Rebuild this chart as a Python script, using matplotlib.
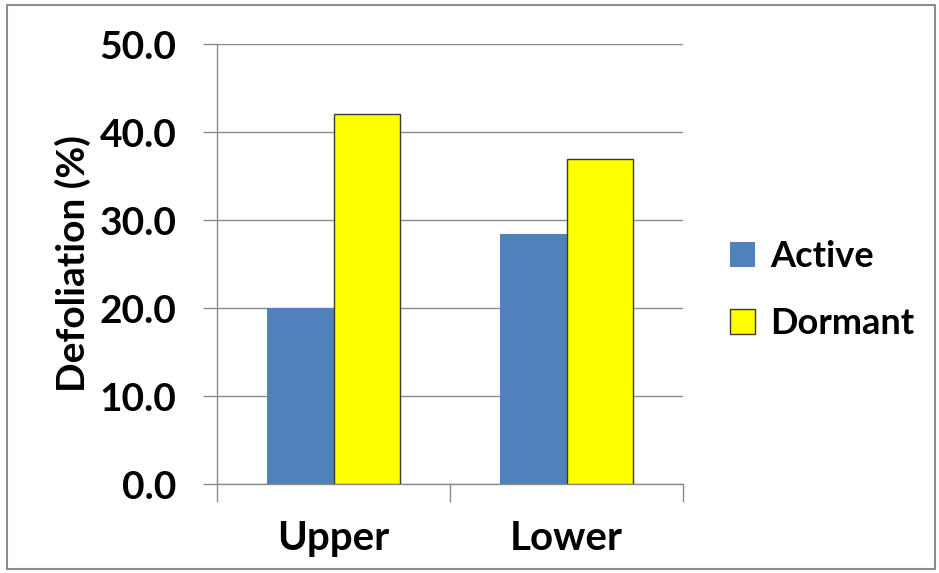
import matplotlib
matplotlib.use("Agg")
import matplotlib.pyplot as plt
import numpy as np
from matplotlib.patches import Rectangle

categories = ["Upper", "Lower"]
series_names = ["Active", "Dormant"]
active = [20.0, 28.4]
dormant = [42.1, 37.0]
yticks = [0, 10, 20, 30, 40, 50]

plt.rcParams['font.family'] = ['Lato', 'DejaVu Sans']
plt.rcParams['font.weight'] = 'bold'

W, H = 939, 573
fig = plt.figure(figsize=(W / 100, H / 100), dpi=100)
ax = fig.add_axes([217 / W, 1 - 484.3 / H, 466 / W, 440 / H])

x = np.arange(len(categories))
bw = 0.285
ax.bar(x - bw / 2, active, bw, color="#4F81BD", edgecolor="none", label=series_names[0], zorder=3)
ax.bar(x + bw / 2, dormant, bw, color="#FFFF00", edgecolor="#3a3a2a", linewidth=1.0,
       label=series_names[1], zorder=3)

ax.set_xlim(-0.5, len(categories) - 0.5)
ax.set_ylim(0, 50)
ax.set_yticks(yticks)
ax.set_yticklabels([f"{v:.1f}" for v in yticks], fontsize=28, fontweight='bold')
ax.yaxis.grid(True, color="#8c8c8c", linewidth=1.0, zorder=0)
ax.set_axisbelow(True)

ax.set_xticks(x)
ax.set_xticklabels(categories, fontsize=29, fontweight='bold')
ax.tick_params(axis='x', which='major', length=0, pad=26)
ax.set_xticks(np.arange(-0.5, len(categories)), minor=True)
ax.tick_params(axis='x', which='minor', length=13, width=1, color="#8c8c8c", direction='out')
ax.tick_params(axis='y', length=10, width=1, color="#8c8c8c", pad=19)

for s in ['top', 'right']:
    ax.spines[s].set_visible(False)
for s in ['left', 'bottom']:
    ax.spines[s].set_color("#8c8c8c")
    ax.spines[s].set_linewidth(1.0)

fig.text(73 / W, 1 - 263 / H, "Defoliation (%)", rotation=90, ha='center', va='center',
         fontsize=28, fontweight='bold')

leg = fig.legend(loc='center left', bbox_to_anchor=(730 / W, 1 - 290 / H), frameon=False,
                 fontsize=26, handlelength=0.7, handleheight=0.7, handletextpad=0.4,
                 labelspacing=0.95, borderaxespad=0, borderpad=0)
for t in leg.get_texts():
    t.set_fontweight('bold')

fig.patches.append(Rectangle((7 / W, 1 - 569 / H), 928 / W, 564 / H, transform=fig.transFigure,
                             fill=False, edgecolor="#8c8c8c", linewidth=1.5))

fig.savefig("out.png", dpi=100)
